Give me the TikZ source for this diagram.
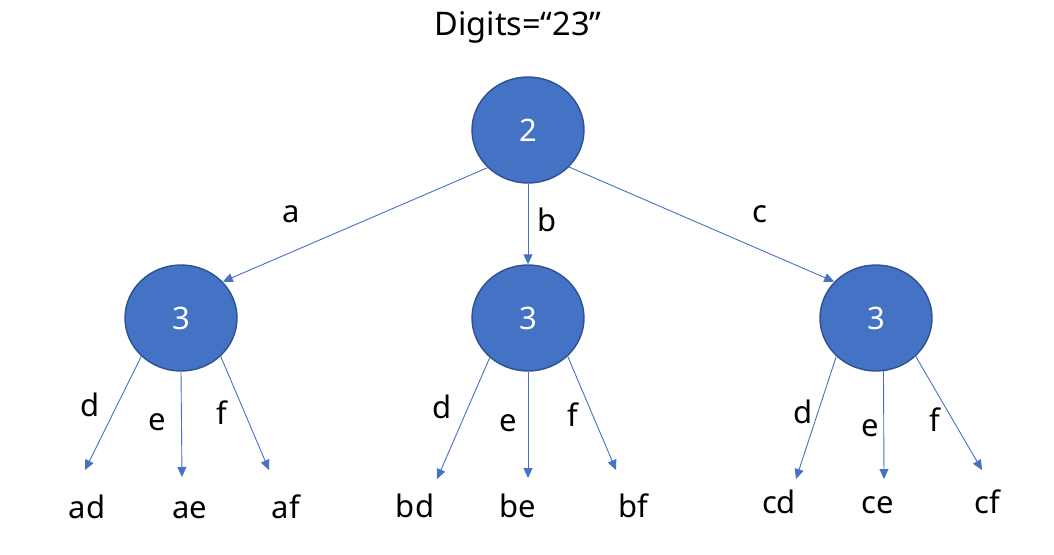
\documentclass[tikz,border=0pt]{standalone}
\usepackage{fontspec}
\setmainfont{Noto Sans}
\usetikzlibrary{shapes.geometric,arrows.meta}
\definecolor{nodefill}{HTML}{4472C4}
\definecolor{nodeedge}{HTML}{2F528F}
\definecolor{arrowblue}{HTML}{4472C4}
\begin{document}
\begin{tikzpicture}[x=1pt,y=-1pt,
  digit/.style={ellipse,fill=nodefill,draw=nodeedge,line width=1.4pt,
    minimum width=112pt,minimum height=106pt,inner sep=0pt,text=white,
    font=\fontsize{31}{36}\selectfont},
  lbl/.style={inner sep=0pt,font=\fontsize{31}{36}\selectfont},
  leaf/.style={lbl,anchor=base},
  conn/.style={draw=arrowblue,line width=0.9pt,
    -{Triangle[length=10pt,width=9pt]}}]
\useasboundingbox (0,0) rectangle (1054,554);
\node[leaf,font=\fontsize{32.5}{38}\selectfont] (title) at (518,35) {Digits=“23”};
\node[digit] (r) at (528,130) {2};
\node[digit] (l) at (181,318) {3};
\node[digit] (m) at (528,318) {3};
\node[digit] (rr) at (876,318) {3};
% top level edges
\draw[conn] (r.223) -- (l.41);
\draw[conn] (r.south) -- (m.north);
\draw[conn] (r.318) -- (rr.139);
\node[lbl] (la) at (291,214) {a};
\node[lbl] (lb) at (547,220) {b};
\node[lbl] (lc) at (760,214) {c};
% tips
\coordinate (t1) at (85,470);
\coordinate (t2) at (182,477);
\coordinate (t3) at (269,470);
\coordinate (t4) at (437,479);
\coordinate (t5) at (528,478);
\coordinate (t6) at (616,470);
\coordinate (t7) at (796,479);
\coordinate (t8) at (884,479);
\coordinate (t9) at (982,470);
\draw[conn] (l.224) -- (t1);
\draw[conn] (l.south) -- (t2);
\draw[conn] (l.316) -- (t3);
\draw[conn] (m.226) -- (t4);
\draw[conn] (m.south) -- (t5);
\draw[conn] (m.316) -- (t6);
\draw[conn] (rr.224) -- (t7);
\draw[conn] (rr.278) -- (t8);
\draw[conn] (rr.316) -- (t9);
% edge labels
\node[lbl] (ld1) at (90,405) {d};
\node[lbl] (le1) at (157,422) {e};
\node[lbl] (lf1) at (222,413) {f};
\node[lbl] (ld2) at (442,407) {d};
\node[lbl] (le2) at (508,423) {e};
\node[lbl] (lf2) at (573,415) {f};
\node[lbl] (ld3) at (803,412) {d};
\node[lbl] (le3) at (870,428) {e};
\node[lbl] (lf3) at (935,420) {f};
% leaves
\node[leaf] (ad) at (87,518) {ad};
\node[leaf] (ae) at (190,518) {ae};
\node[leaf] (af) at (286,518) {af};
\node[leaf] (bd) at (415,517) {bd};
\node[leaf] (be) at (518,517) {be};
\node[leaf] (bf) at (633,517) {bf};
\node[leaf] (cd) at (779,513) {cd};
\node[leaf] (ce) at (878,513) {ce};
\node[leaf] (cf) at (987,513) {cf};
\end{tikzpicture}
\end{document}
